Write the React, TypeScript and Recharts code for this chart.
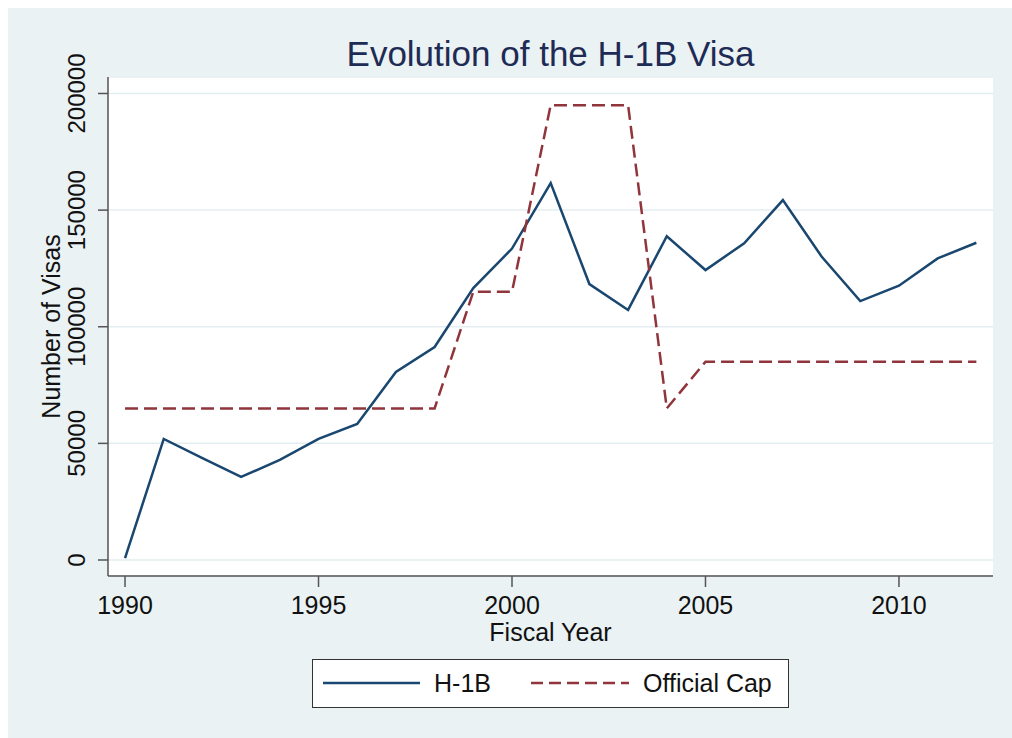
import { CartesianGrid, Legend, Line, LineChart, XAxis, YAxis } from 'recharts'

const years = [
  1990, 1991, 1992, 1993, 1994, 1995, 1996, 1997, 1998, 1999, 2000, 2001,
  2002, 2003, 2004, 2005, 2006, 2007, 2008, 2009, 2010, 2011, 2012,
]
const h1bVisas = [
  800, 51900, 43700, 35600, 42900, 51900, 58300, 80600, 91300, 116600, 133500,
  161600, 118300, 107200, 138800, 124300, 135800, 154300, 130100, 111000,
  117600, 129300, 136000,
]
const officialCap = [
  65000, 65000, 65000, 65000, 65000, 65000, 65000, 65000, 65000, 115000,
  115000, 195000, 195000, 195000, 65000, 85000, 85000, 85000, 85000, 85000,
  85000, 85000, 85000,
]
const xTicks = [1990, 1995, 2000, 2005, 2010]
const yTicks = [0, 50000, 100000, 150000, 200000]

const data = years.map((year, i) => ({ year, h1b: h1bVisas[i], cap: officialCap[i] }))

const FONT = '"Liberation Sans", Arial, sans-serif'
const NAVY = '#1a476f'
const MAROON = '#90353b'
const AXIS = '#555'
const BG = '#eaf2f3'

// Stata draws y tick labels turned on their side
function YTick({ x, y, payload }: any) {
  return (
    <text
      x={x}
      y={y}
      transform={`rotate(-90 ${x} ${y})`}
      textAnchor="middle"
      fontSize={24}
      fontFamily={FONT}
      fill="#111"
    >
      {payload.value}
    </text>
  )
}

function LegendBox() {
  const text = {
    position: 'absolute' as const,
    top: 0,
    lineHeight: '46px',
    fontSize: 25,
    fontFamily: FONT,
    color: '#111',
  }
  return (
    <div
      style={{
        boxSizing: 'border-box',
        position: 'relative',
        width: 477,
        height: 49,
        border: '1.5px solid #333',
        background: '#fff',
      }}
    >
      <svg width={477} height={46} style={{ position: 'absolute', left: 0, top: 0 }}>
        <line x1={10} x2={107} y1={23} y2={23} stroke={NAVY} strokeWidth={2.5} />
        <line x1={218} x2={316} y1={23} y2={23} stroke={MAROON} strokeWidth={2.5} strokeDasharray="12 6" />
      </svg>
      <span style={{ ...text, left: 121 }}>H-1B</span>
      <span style={{ ...text, left: 330 }}>Official Cap</span>
    </div>
  )
}

export default function App() {
  return (
    <div
      style={{
        boxSizing: 'border-box',
        width: 1012,
        height: 738,
        borderLeft: '8px solid #fff',
        borderTop: '8px solid #fff',
        background: BG,
        overflow: 'hidden',
      }}
    >
      <style>{`html, body { margin: 0; background: ${BG}; }`}</style>
      <div style={{ position: 'relative', width: 1004, height: 730, background: BG }}>
        <div
          style={{
            position: 'absolute',
            left: 100,
            top: 28,
            width: 885,
            textAlign: 'center',
            fontFamily: FONT,
            fontSize: 35,
            lineHeight: '35px',
            color: '#1e2b55',
          }}
        >
          Evolution of the H-1B Visa
        </div>
        <LineChart width={1004} height={730} data={data} margin={{ top: 69, right: 19, bottom: 82, left: 0 }}>
          <CartesianGrid horizontal vertical={false} fill="#fff" stroke="#e4eef1" strokeWidth={1.5} />
          <XAxis
            dataKey="year"
            type="number"
            domain={[1989.56, 2012.43]}
            ticks={xTicks}
            allowDataOverflow
            height={80}
            stroke={AXIS}
            strokeWidth={1.5}
            tickSize={11}
            tickMargin={9}
            tick={{ fontSize: 25, fontFamily: FONT, fill: '#111' }}
            label={{
              content: ({ viewBox }: any) => (
                <text
                  x={viewBox.x + viewBox.width / 2}
                  y={viewBox.y + 65}
                  textAnchor="middle"
                  fontSize={25}
                  fontFamily={FONT}
                  fill="#111"
                >
                  Fiscal Year
                </text>
              ),
            }}
          />
          <YAxis
            type="number"
            domain={[-6860, 207070]}
            ticks={yTicks}
            allowDataOverflow
            width={100}
            stroke={AXIS}
            strokeWidth={1.5}
            tickSize={10}
            tickMargin={13}
            tick={<YTick />}
            label={{
              content: ({ viewBox }: any) => {
                const cx = 52
                const cy = viewBox.y + viewBox.height / 2
                return (
                  <text
                    x={cx}
                    y={cy}
                    transform={`rotate(-90 ${cx} ${cy})`}
                    textAnchor="middle"
                    fontSize={25}
                    fontFamily={FONT}
                    fill="#111"
                  >
                    Number of Visas
                  </text>
                )
              },
            }}
          />
          <Legend
            layout="horizontal"
            verticalAlign="middle"
            align="center"
            wrapperStyle={{ top: 651, left: 304, width: 477, height: 49 }}
            content={() => <LegendBox />}
          />
          <Line
            type="linear"
            dataKey="h1b"
            name="H-1B"
            stroke={NAVY}
            strokeWidth={2.5}
            dot={false}
            isAnimationActive={false}
          />
          <Line
            type="linear"
            dataKey="cap"
            name="Official Cap"
            stroke={MAROON}
            strokeWidth={2.5}
            strokeDasharray="13 6"
            dot={false}
            isAnimationActive={false}
          />
        </LineChart>
      </div>
    </div>
  )
}
